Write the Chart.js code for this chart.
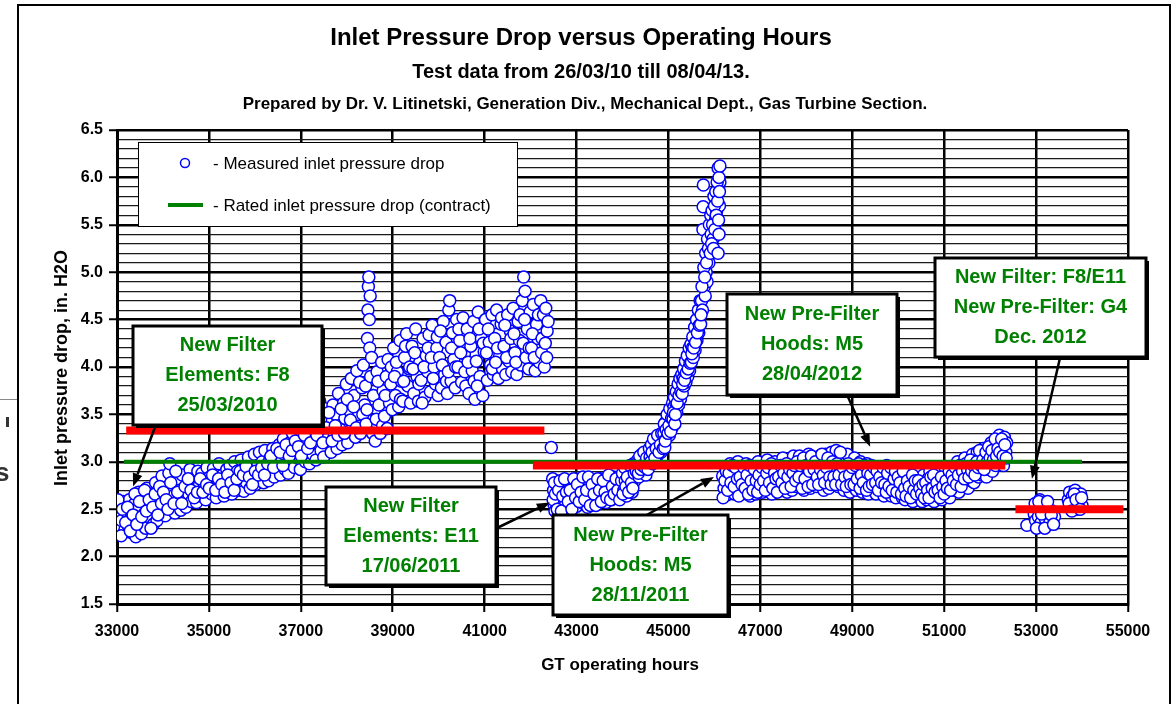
<!DOCTYPE html>
<html>
<head>
<meta charset="utf-8">
<script src="https://cdn.jsdelivr.net/npm/chart.js@4.4.1/dist/chart.umd.min.js"></script>
<style>
html, body { margin: 0; padding: 0; background: #fff; }
#wrap { position: relative; width: 1176px; height: 704px; overflow: hidden; }
canvas { display: block; }
</style>
</head>
<body>
<div id="wrap"><canvas id="pressure_chart" width="1176" height="704"></canvas></div>
<script>
// jshint esversion: 6

// measured inlet pressure drop [GT operating hours, in. H2O]
// new filter elements F8 (25/03/2010)
const period1 = [
    [33010,2.45],[33040,2.31],[33070,2.52],[33100,2.38],[33140,2.58],[33170,2.28],
    [33210,2.47],[33240,2.33],[33270,2.6],[33300,2.4],[33330,2.25],[33370,2.55],
    [33410,2.21],[33440,2.5],[33470,2.68],[33500,2.36],[33530,2.24],[33560,2.62],[33590,2.45],
    [33620,2.3],[33650,2.72],[33680,2.55],[33720,2.41],[33760,2.66],[33790,2.34],
    [33810,2.5],[33840,2.78],[33870,2.38],[33910,2.62],[33950,2.46],[33980,2.85],
    [34020,2.55],[34050,2.43],[34090,2.72],[34130,2.88],[34150,2.98],[34180,2.5],
    [34220,2.64],[34260,2.46],[34300,2.8],[34340,2.58],[34370,2.7],[34390,2.49],
    [34420,2.86],[34460,2.6],[34500,2.52],[34530,2.76],[34560,2.66],[34590,2.92],
    [34620,2.58],[34660,2.82],[34700,2.7],[34730,2.57],[34760,2.9],[34790,2.75],
    [34820,2.64],[34850,2.88],[34890,2.78],[34930,2.6],[34960,2.94],[34990,2.7],
    [35020,2.84],[35060,2.66],[35100,2.93],[35130,2.74],[35160,2.62],[35190,2.8],
    [35220,2.98],[35260,2.7],[35300,2.86],[35330,2.64],[35360,2.78],[35390,2.92],
    [35420,2.72],[35460,2.96],[35500,2.66],[35530,2.84],[35560,3.0],[35590,2.76],
    [35620,2.9],[35660,2.7],[35700,3.02],[35730,2.8],[35760,2.69],[35790,2.95],
    [35820,2.78],[35860,3.05],[35900,2.72],[35930,2.9],[35960,2.84],[35990,3.08],
    [36020,2.76],[36060,2.96],[36100,3.1],[36130,2.82],[36160,3.0],[36190,2.78],
    [36220,3.12],[36260,2.88],[36300,2.8],[36330,3.04],[36360,2.92],[36390,3.14],
    [36420,2.84],[36460,3.08],[36500,2.96],[36530,3.18],[36560,2.86],[36590,3.02],
    [36620,3.24],[36660,2.92],[36700,3.1],[36730,2.88],[36760,3.2],[36790,3.0],
    [36820,3.3],[36860,2.94],[36900,3.14],[36930,3.04],[36960,3.34],[36990,2.92],
    [37020,3.22],[37060,3.4],[37100,3.0],[37130,3.12],[37160,3.3],[37190,2.98],
    [37220,3.44],[37260,3.08],[37300,3.26],[37330,3.02],[37360,3.5],[37390,3.18],
    [37410,3.64],[37440,3.12],[37470,3.32],[37500,3.05],[37540,3.56],[37570,3.24],
    [37620,3.4],[37660,3.1],[37700,3.6],[37730,3.28],[37760,3.5],[37790,3.14],
    [37820,3.72],[37860,3.34],[37900,3.18],[37930,3.62],[37960,3.46],[37990,3.82],
    [38020,3.2],[38060,3.54],[38100,3.88],[38130,3.38],[38160,3.7],[38190,3.26],
    [38220,3.96],[38260,3.5],[38300,3.3],[38330,3.78],[38360,4.02],[38390,3.6],
    [33020,2.6],[33090,2.22],[33120,2.5],[33190,2.36],[33230,2.52],[33290,2.27],[33350,2.44],
    [33390,2.66],[33430,2.34],[33490,2.58],[33540,2.42],[33600,2.7],[33640,2.48],[33700,2.6],
    [33740,2.3],[33780,2.52],[33830,2.66],[33890,2.44],[33930,2.74],[33970,2.56],[34010,2.68],
    [34070,2.6],[34110,2.5],[34170,2.78],[34240,2.56],[34280,2.9],[34320,2.68],[34410,2.56],
    [34480,2.74],[34550,2.82],[34610,2.7],[34680,2.62],[34750,2.68],[34810,2.82],[34870,2.68],
    [34950,2.76],[35010,2.72],[35080,2.86],[35150,2.7],[35210,2.82],[35280,2.76],[35350,2.68],
    [35410,2.86],[35480,2.78],[35550,2.7],[35610,2.82],[35680,2.9],[35750,2.86],[35810,2.95],
    [35880,2.84],[35950,2.76],[36010,2.9],[36080,2.86],[36150,2.94],[36210,2.86],[36280,2.98],
    [36350,3.06],[36410,2.94],[36480,3.14],[36550,3.1],[36610,2.96],[36680,3.18],[36750,3.06],
    [36810,3.12],[36880,3.22],[36950,3.16],[37010,3.06],[37080,3.28],[37150,3.14],[37210,3.2],
    [37280,3.36],[37350,3.28],[37430,3.44],[37480,3.2],[37550,3.36],[37610,3.52],[37680,3.22],
    [37750,3.38],[37810,3.28],[37880,3.56],[37950,3.3],[38010,3.66],[38080,3.44],[38150,3.58],
    [38210,3.36],[38280,3.84],[38350,3.5],[38410,3.8],[38440,3.55],
    [38420,3.4],[38450,4.3],[38460,4.6],[38470,4.85],[38480,4.95],[38490,4.5],
    [38500,4.2],[38510,4.75],[38520,3.9],[38540,4.1],[38560,3.3],[38580,3.7],
    [38620,3.22],[38660,3.95],[38700,3.6],[38730,3.3],[38760,4.05],[38790,3.75],
    [38640,3.45],[38680,3.85],[38780,3.38],
    [38820,3.48],[38860,3.9],[38900,4.08],[38930,3.62],[38960,3.82],[38990,3.55],
    [38840,3.7],[38880,3.35],[38970,4.0],
    [39020,4.2],[39060,3.7],[39100,3.95],[39130,3.58],[39160,4.28],[39190,3.85],
    [39040,3.9],[39080,4.05],[39170,3.66],
    [39220,3.64],[39260,4.1],[39300,4.35],[39330,3.8],[39360,3.98],[39390,3.62],
    [39240,3.85],[39280,4.22],[39370,4.0],
    [39420,4.22],[39460,3.72],[39500,4.4],[39530,3.9],[39560,3.64],[39590,4.05],
    [39440,3.98],[39480,4.15],[39570,3.82],
    [39620,3.86],[39660,4.3],[39700,3.68],[39730,4.12],[39760,3.95],[39790,4.34],
    [39640,3.62],[39680,4.0],[39770,4.2],
    [39820,3.74],[39860,4.44],[39900,4.0],[39930,3.82],[39960,4.2],[39990,3.7],
    [39840,4.1],[39880,3.88],[39970,4.32],
    [40020,4.1],[40060,3.78],[40100,4.48],[40130,3.92],[40160,4.26],[40190,3.72],
    [40040,4.38],[40080,4.02],[40170,3.85],
    [40220,4.6],[40240,4.7],[40270,3.85],[40300,4.36],[40330,4.08],[40360,3.78],[40390,4.5],
    [40210,3.95],[40280,4.2],[40370,4.0],
    [40420,4.0],[40460,4.28],[40500,3.84],[40530,4.52],[40560,4.14],[40590,3.8],
    [40440,4.4],[40480,4.15],[40570,3.95],
    [40620,4.4],[40660,3.72],[40700,4.22],[40730,3.96],[40760,4.48],[40790,3.66],
    [40640,4.05],[40680,4.3],[40770,3.85],
    [40820,4.06],[40860,4.58],[40900,3.9],[40930,4.3],[40960,3.7],[40990,4.16],
    [40840,3.8],[40880,4.4],[40970,4.25],
    [41020,4.5],[41060,3.86],[41100,4.26],[41130,4.02],[41160,4.55],[41190,3.92],
    [41040,4.15],[41080,4.4],[41170,3.98],
    [41220,4.3],[41260,4.6],[41300,3.88],[41330,4.12],[41360,4.45],[41390,3.98],
    [41240,4.05],[41280,4.2],[41370,4.52],
    [41420,4.22],[41460,3.92],[41500,4.55],[41530,4.06],[41560,4.38],[41590,3.95],
    [41440,4.44],[41480,4.1],[41570,4.3],
    [41620,4.62],[41660,4.15],[41700,3.92],[41730,4.48],[41760,4.28],[41790,4.02],
    [41640,4.35],[41680,4.05],[41770,4.55],
    [41820,4.7],[41850,4.95],[41880,4.8],[41900,4.1],[41930,4.4],[41960,3.98],[41990,4.58],
    [41840,4.25],[41870,4.5],[41970,4.2],
    [42020,4.2],[42060,4.66],[42100,3.96],[42130,4.45],[42160,4.3],[42190,4.05],
    [42040,4.35],[42080,4.1],[42170,4.55],
    [42220,4.7],[42250,4.3],[42280,4.55],[42300,4.0],[42330,4.62],[42360,4.38],[42380,4.48],
    [42240,4.15],[42320,4.25],[42350,4.1],
    [42450,3.15]
];

// new filter elements E11 (17/06/2011)
const period2 = [
    [42480,2.82],[42500,2.7],[42510,2.55],[42530,2.48],[42560,2.62],[42590,2.75],[42620,2.52],[42650,2.66],[42680,2.58],
    [42720,2.74],[42760,2.55],[42800,2.64],[42840,2.5],[42880,2.78],[42920,2.6],[42960,2.7],[43000,2.53],[43040,2.66],[43080,2.8],
    [43120,2.57],[43160,2.72],[43200,2.62],[43240,2.52],[43280,2.75],[43320,2.65],[43360,2.56],[43400,2.78],[43440,2.68],[43480,2.58],
    [43520,2.82],[43560,2.64],[43600,2.74],[43640,2.57],[43680,2.8],[43720,2.68],[43760,2.6],[43800,2.84],[43840,2.72],[43880,2.62],
    [43920,2.78],[43960,2.66],
    [42490,2.6],[42520,2.78],[42540,2.66],[42580,2.5],[42610,2.7],[42640,2.8],[42670,2.48],[42700,2.64],[42740,2.82],[42780,2.68],
    [42820,2.58],[42860,2.7],[42900,2.5],[42940,2.82],[42980,2.62],[43020,2.76],[43060,2.58],[43100,2.68],[43140,2.84],[43180,2.6],
    [43220,2.7],[43260,2.84],[43300,2.54],[43340,2.76],[43380,2.66],[43420,2.54],[43460,2.82],[43500,2.7],[43540,2.58],[43580,2.8],
    [43620,2.68],[43660,2.62],[43700,2.86],[43740,2.6],[43780,2.74],[43820,2.66],[43860,2.82],[43900,2.7],[43940,2.6],[43980,2.8],
    [44000,2.88],[44030,2.7],[44060,2.8],[44090,2.64],[44120,2.92],[44150,2.76],[44180,2.86],[44210,2.68],[44240,2.98],[44270,2.8],
    [44010,2.66],[44045,2.94],[44075,2.74],[44105,2.84],[44135,2.68],[44165,2.96],[44195,2.78],[44225,2.72],[44255,2.88],[44285,2.94],
    [44300,2.9],[44330,3.02],[44360,2.84],[44390,2.96],[44420,3.08],[44450,2.9],[44480,3.0],[44510,2.86],[44540,3.1],[44570,2.98],
    [44315,2.98],[44345,2.88],[44375,3.06],[44405,2.92],[44435,2.96],[44465,3.1],[44495,2.94],[44525,3.04],[44555,2.92],[44585,3.14],
    [44600,3.05],[44630,3.18],[44660,2.98],[44690,3.12],[44720,3.22],[44750,3.06],[44780,3.16],[44810,3.26],[44840,3.1],[44870,3.2],
    [44615,3.0],[44645,3.1],[44675,3.24],[44705,3.04],[44735,3.14],[44765,3.28],[44795,3.1],[44825,3.18],[44855,3.3],[44885,3.14],
    [44900,3.3],[44920,3.15],[44940,3.42],[44960,3.25],[44980,3.35],[45000,3.48],[45020,3.28],[45040,3.4],[45060,3.55],[45080,3.36],
    [44910,3.4],[44930,3.22],[44950,3.34],[44970,3.5],[44990,3.3],[45010,3.38],[45030,3.56],[45050,3.32],[45070,3.46],[45090,3.62],
    [45100,3.45],[45120,3.58],[45140,3.4],[45160,3.62],[45180,3.52],[45200,3.7],[45220,3.6],[45240,3.76],[45260,3.66],[45280,3.82],
    [45110,3.52],[45130,3.68],[45150,3.5],[45170,3.74],[45190,3.62],[45210,3.82],[45230,3.7],[45250,3.88],[45270,3.74],[45290,3.92],
    [45300,3.72],[45320,3.88],[45340,3.8],[45360,3.95],[45380,3.84],[45400,4.02],[45420,3.9],[45440,4.08],[45460,3.96],[45480,4.12],
    [45310,3.82],[45330,3.98],[45350,3.86],[45370,4.06],[45390,3.94],[45410,4.12],[45430,3.98],[45450,4.2],[45470,4.04],[45490,4.24],
    [45500,4.05],[45520,4.2],[45540,4.1],[45560,4.3],[45580,4.18],[45600,4.4],[45620,4.28],[45640,4.48],[45660,4.36],[45680,4.55],
    [45510,4.14],[45530,4.32],[45550,4.2],[45570,4.42],[45590,4.26],[45610,4.5],[45630,4.36],[45650,4.6],[45670,4.44],[45690,4.7],
    [45700,4.45],[45720,4.7],[45740,4.6],[45750,5.45],[45755,5.69],[45760,5.92],[45780,4.85],[45800,4.75],[45820,5.0],[45840,4.9],
    [45860,5.2],[45880,5.1],[45900,5.35],
    [45710,4.55],[45730,4.85],[45770,5.05],[45790,4.95],[45810,5.2],[45830,5.1],[45850,5.35],[45870,5.25],[45890,5.5],[45910,5.2],
    [45920,5.6],[45930,5.4],[45950,5.65],[45970,5.35],[45990,5.8],[46020,5.55],[46050,5.65],[46090,5.9],[46110,5.7],[46120,5.95],
    [45940,5.3],[45960,5.5],[45980,5.25],[46000,5.7],[46010,5.45],[46030,5.85],[46040,5.6],[46060,5.95],[46070,5.75],[46080,6.1],
    [46090,5.55],[46100,6.0],[46110,5.85],[46120,6.12],[46100,5.4],[46080,5.2]
];

// new pre-filter hoods M5 (28/11/2011 and 28/04/2012)
const period3 = [
    [46180,2.85],[46210,2.72],[46240,2.95],[46270,2.65],[46300,2.8],[46340,2.98],[46370,2.7],
    [46410,2.88],[46440,2.66],[46480,2.78],[46510,3.0],[46540,2.7],[46570,2.92],
    [46620,2.68],[46650,2.84],[46690,2.98],[46720,2.74],[46750,2.9],[46780,2.64],
    [46820,2.96],[46850,2.76],[46890,2.66],[46920,2.88],[46950,3.0],[46980,2.72],
    [47020,2.84],[47050,2.68],[47090,2.96],[47120,2.78],[47150,3.02],[47180,2.7],
    [47220,2.9],[47250,2.66],[47290,2.8],[47320,3.0],[47350,2.74],[47380,2.94],
    [47420,2.7],[47450,2.86],[47490,3.04],[47520,2.76],[47550,2.92],[47580,2.68],
    [47620,2.98],[47650,2.8],[47690,2.7],[47720,3.06],[47750,2.86],[47780,2.74],
    [47820,2.92],[47850,3.06],[47890,2.76],[47920,2.88],[47950,2.7],[47980,3.0],
    [48020,2.8],[48050,3.08],[48090,2.72],[48120,2.94],[48150,2.84],[48180,3.02],
    [48220,2.74],[48250,2.9],[48290,3.06],[48320,2.78],[48350,2.98],[48380,2.7],
    [48420,3.08],[48450,2.84],[48490,2.72],[48520,2.96],[48550,3.1],[48580,2.78],
    [48620,2.9],[48650,3.12],[48690,2.74],[48720,3.0],[48750,2.82],[48780,3.06],
    [48820,2.7],[48850,2.94],[48890,3.08],[48920,2.8],[48950,2.68],[48980,2.98],
    [49020,2.86],[49050,3.04],[49090,2.7],[49120,2.92],[49150,2.78],[49180,3.0],
    [49220,2.68],[49250,2.9],[49290,2.76],[49320,2.98],[49350,2.66],[49380,2.84],
    [49420,2.96],[49450,2.7],[49490,2.88],[49520,2.66],[49550,2.8],[49580,2.94],
    [49620,2.72],[49650,2.9],[49690,2.64],[49720,2.82],[49750,2.96],[49780,2.7],
    [49820,2.86],[49850,2.64],[49890,2.92],[49920,2.76],[49950,2.62],[49980,2.88],
    [50020,2.7],[50050,2.9],[50090,2.62],[50120,2.8],[50150,2.6],[50180,2.86],
    [50220,2.66],[50250,2.9],[50290,2.74],[50320,2.58],[50350,2.84],[50380,2.68],
    [50420,2.88],[50450,2.62],[50490,2.78],[50520,2.58],[50550,2.86],[50580,2.7],
    [50620,2.6],[50650,2.82],[50690,2.9],[50720,2.66],[50750,2.76],[50780,2.58],
    [50820,2.86],[50850,2.64],[50890,2.92],[50920,2.72],[50950,2.6],[50980,2.8],
    [51020,2.94],[51050,2.66],[51090,2.84],[51120,2.62],[51150,2.76],[51180,2.95],
    [51220,2.7],[51250,2.88],[51290,3.0],[51320,2.68],[51350,2.82],[51380,2.94],
    [51420,2.76],[51450,3.04],[51490,2.86],[51520,2.72],[51550,2.96],[51580,2.8],
    [51620,3.08],[51650,2.78],[51690,2.92],[51720,3.1],[51750,2.84],[51780,3.0],
    [51820,2.86],[51850,3.14],[51890,2.96],[51920,2.84],[51950,3.08],[51980,2.92],
    [52020,3.2],[52050,2.9],[52090,3.1],[52120,2.96],[52150,3.22],[52180,3.0],
    [52200,3.28],[52230,3.0],[52260,3.16],[52290,2.96],[52310,3.26],[52340,3.1],[52360,3.2],
    [46190,2.62],[46230,2.8],[46260,2.9],[46290,2.7],[46320,2.88],[46360,2.78],[46390,2.96],[46430,2.74],
    [46460,2.94],[46500,2.82],[46530,2.64],[46560,2.84],[46600,2.76],[46640,2.94],[46670,2.72],[46710,2.86],
    [46740,2.66],[46770,2.96],[46800,2.8],[46840,2.7],[46870,2.92],[46910,2.8],[46940,2.68],[46970,2.86],
    [47000,2.76],[47040,2.94],[47070,2.8],[47110,2.7],[47140,2.88],[47170,2.94],[47200,2.78],[47240,2.98],
    [47270,2.72],[47310,2.88],[47340,2.82],[47370,2.68],[47400,2.84],[47440,2.96],[47470,2.78],[47510,2.88],
    [47540,2.72],[47570,2.98],[47600,2.84],[47640,2.92],[47670,2.74],[47710,2.88],[47740,2.96],[47770,2.8],
    [47800,3.0],[47840,2.84],[47870,2.96],[47910,2.72],[47940,3.04],[47970,2.82],[48000,2.96],[48040,2.74],
    [48070,2.9],[48110,3.06],[48140,2.76],[48170,2.92],[48200,3.0],[48240,2.84],[48270,2.76],[48310,2.92],
    [48340,3.08],[48370,2.86],[48400,2.78],[48440,2.94],[48470,3.04],[48510,2.84],[48540,2.76],[48570,3.0],
    [48600,2.84],[48640,2.76],[48670,2.98],[48710,2.86],[48740,3.1],[48770,2.76],[48800,2.94],[48840,2.84],
    [48870,2.74],[48910,2.98],[48940,2.86],[48970,2.76],[49000,2.94],[49040,2.76],[49070,2.96],[49110,2.82],
    [49140,2.98],[49170,2.72],[49200,2.86],[49240,2.78],[49270,2.96],[49310,2.7],[49340,2.88],[49370,2.74],
    [49400,2.86],[49440,2.76],[49470,2.94],[49510,2.78],[49540,2.9],[49570,2.7],[49600,2.84],[49640,2.78],
    [49670,2.94],[49710,2.76],[49740,2.68],[49770,2.88],[49800,2.74],[49840,2.94],[49870,2.7],[49910,2.82],
    [49940,2.9],[49970,2.68],[50000,2.84],[50040,2.78],[50070,2.66],[50110,2.9],[50140,2.72],[50170,2.64],
    [50200,2.8],[50240,2.74],[50270,2.62],[50310,2.86],[50340,2.7],[50370,2.8],[50400,2.66],[50440,2.8],
    [50470,2.72],[50510,2.66],[50540,2.76],[50570,2.62],[50600,2.78],[50640,2.7],[50670,2.62],[50710,2.84],
    [50740,2.72],[50770,2.86],[50800,2.68],[50840,2.78],[50870,2.7],[50910,2.62],[50940,2.84],[50970,2.74],
    [51000,2.66],[51040,2.8],[51070,2.72],[51110,2.9],[51140,2.7],[51170,2.86],[51200,2.8],[51240,2.94],
    [51270,2.76],[51310,2.86],[51340,2.96],[51370,2.74],[51400,2.9],[51440,2.82],[51470,2.98],[51510,2.92],
    [51540,2.84],[51570,3.02],[51600,2.9],[51640,2.96],[51670,2.86],[51710,3.0],[51740,2.94],[51770,3.12],
    [51800,2.96],[51840,3.02],[51870,2.92],[51910,3.1],[51940,3.0],[51970,3.16],[52000,3.04],[52040,3.12],
    [52070,3.02],[52110,3.24],[52140,3.06],[52170,3.14],[52210,3.1],[52250,3.24],[52280,3.06],[52320,3.18],
    [52350,3.04]
];

// new filter F8/E11 and pre-filter G4 (Dec. 2012)
const period4 = [
    [52800,2.33],[52960,2.45],[52990,2.38],[53020,2.52],[53050,2.42],[53080,2.6],[53110,2.36],
    [53140,2.48],[53170,2.55],[53200,2.4],[53230,2.5],[53260,2.44],[53300,2.36],[53350,2.48],
    [53400,2.42],[53700,2.6],[53730,2.68],[53760,2.52],[53790,2.64],[53820,2.56],[53850,2.7],
    [53880,2.5],[53910,2.62],[53940,2.58],[53970,2.66],[54000,2.54],
    [52980,2.56],[53010,2.3],[53060,2.58],[53120,2.45],[53190,2.3],[53250,2.58],[53330,2.44],
    [53380,2.34],[53720,2.56],[53780,2.48],[53830,2.66],[53870,2.6],[53960,2.5],[53990,2.62]
];

// average level of each period (red bars)
const meanStart = [33200, 42050, 52550];
const meanEnd = [42300, 52330, 54900];
const meanDrop = [3.33, 2.96, 2.50];

// rated (contract) inlet pressure drop
const ratedDrop = 3.0;
const ratedStart = 33150;
const ratedEnd = 54000;

// callout texts and the points their arrows aim at
const noteLines = [
    ['New Filter', 'Elements: F8', '25/03/2010'],
    ['New Filter', 'Elements: E11', '17/06/2011'],
    ['New Pre-Filter', 'Hoods: M5', '28/11/2011'],
    ['New Pre-Filter', 'Hoods: M5', '28/04/2012'],
    ['New Filter: F8/E11', 'New Pre-Filter: G4', 'Dec. 2012']
];
const noteTipHours = [33350, 42420, 45990, 49390, 52910];
const noteTipDrop = [2.74, 2.57, 2.84, 3.16, 2.82];

const xTicks = [33000, 35000, 37000, 39000, 41000, 43000, 45000, 47000, 49000, 51000, 53000, 55000];

const FONT = '"Liberation Sans", Arial, Helvetica, sans-serif';

function toPoints(rows)
{
    return rows.map(r => ({x: r[0], y: r[1]}));
}

function is_major(v)
{
    return Math.abs(v * 2 - Math.round(v * 2)) < 1e-6;
}

function arrow(c, x1, y1, x2, y2)
{
    const ang = Math.atan2(y2 - y1, x2 - x1);
    const len = 13, half = 5;
    const bx = x2 - Math.cos(ang) * len, by = y2 - Math.sin(ang) * len;
    c.beginPath();
    c.moveTo(x1, y1);
    c.lineTo(bx, by);
    c.stroke();
    c.beginPath();
    c.moveTo(x2, y2);
    c.lineTo(bx - Math.sin(ang) * half, by + Math.cos(ang) * half);
    c.lineTo(bx + Math.sin(ang) * half, by - Math.cos(ang) * half);
    c.closePath();
    c.fill();
}

// boxes: left, top, width, height, arrow start x, arrow start y
const noteBoxes = [
    [133, 326, 189, 99, 155, 427],
    [326, 487, 170, 98, 497, 528],
    [553, 515, 175, 100, 645, 516],
    [727, 294, 170, 101, 848, 397],
    [935, 258, 211, 99, 1060, 358]
];

const decorations = {
    id: 'decorations',
    afterDraw(chart) {
        const c = chart.ctx;
        const xs = chart.scales.x, ys = chart.scales.y;
        c.save();

        // stray edge of a neighbouring frame at the far left
        c.strokeStyle = '#888'; c.lineWidth = 1;
        c.beginPath(); c.moveTo(0, 399.5); c.lineTo(17, 399.5); c.stroke();
        c.fillStyle = '#333';
        c.font = 'bold 26px ' + FONT;
        c.textAlign = 'left'; c.textBaseline = 'alphabetic';
        c.save(); c.beginPath(); c.rect(0, 400, 17, 100); c.clip();
        c.fillText('s', -5, 481);
        c.fillRect(6, 417, 3, 10);
        c.restore();

        // outer frame
        c.strokeStyle = '#000'; c.lineWidth = 2;
        c.beginPath();
        c.moveTo(18, 720); c.lineTo(18, 5); c.lineTo(1170, 5); c.lineTo(1170, 720);
        c.stroke();

        // titles
        c.fillStyle = '#000';
        c.textAlign = 'center'; c.textBaseline = 'middle';
        c.font = 'bold 24px ' + FONT;
        c.fillText('Inlet Pressure Drop versus Operating Hours', 581, 38);
        c.font = 'bold 20px ' + FONT;
        c.fillText('Test data from 26/03/10 till 08/04/13.', 581, 72);
        c.font = 'bold 17px ' + FONT;
        c.fillText('Prepared by Dr. V. Litinetski, Generation Div., Mechanical Dept., Gas Turbine Section.', 585, 104);

        // axis titles
        c.font = 'bold 17px ' + FONT;
        c.fillText('GT operating hours', 620, 665);
        c.font = 'bold 18px ' + FONT;
        c.save();
        c.translate(62, 368);
        c.rotate(-Math.PI / 2);
        c.fillText('Inlet pressure drop, in. H2O', 0, 0);
        c.restore();

        // legend
        c.fillStyle = '#fff';
        c.fillRect(138, 142, 379, 84);
        c.strokeStyle = '#000'; c.lineWidth = 1;
        c.strokeRect(138.5, 142.5, 379, 84);
        c.beginPath();
        c.arc(185, 163, 4.5, 0, Math.PI * 2);
        c.strokeStyle = '#0000ff'; c.lineWidth = 1.5; c.stroke();
        c.strokeStyle = '#008000'; c.lineWidth = 4;
        c.beginPath(); c.moveTo(168, 205); c.lineTo(203, 205); c.stroke();
        c.fillStyle = '#000';
        c.textAlign = 'left';
        c.font = '17px ' + FONT;
        c.fillText('- Measured inlet pressure drop', 213, 164);
        c.fillText('- Rated inlet pressure drop (contract)', 213, 206);

        // callouts
        noteBoxes.forEach((b, i) => {
            const [bx, by, bw, bh, ax, ay] = b;
            c.strokeStyle = '#000'; c.fillStyle = '#000'; c.lineWidth = 2.5;
            arrow(c, ax, ay, xs.getPixelForValue(noteTipHours[i]), ys.getPixelForValue(noteTipDrop[i]));
            c.fillStyle = '#000';
            c.fillRect(bx + 3, by + 3, bw, bh);
            c.fillStyle = '#fff';
            c.fillRect(bx, by, bw, bh);
            c.lineWidth = 3;
            c.strokeRect(bx, by, bw, bh);
            c.fillStyle = '#008000';
            c.textAlign = 'center'; c.textBaseline = 'middle';
            c.font = 'bold 20px ' + FONT;
            noteLines[i].forEach((t, k) => {
                c.fillText(t, bx + bw / 2, by + bh / 2 + (k - 1) * 30);
            });
        });
        c.restore();
    }
};

const measured = toPoints(period1.concat(period2, period3, period4));

const datasets = meanDrop.map((v, i) => ({
    type: 'line',
    label: 'Average ' + (i + 1),
    data: [{x: meanStart[i], y: v}, {x: meanEnd[i], y: v}],
    borderColor: '#ff0000',
    borderWidth: 8,
    borderCapStyle: 'butt',
    pointRadius: 0,
    fill: false,
    order: 0
}));
datasets.push({
    type: 'line',
    label: 'Rated inlet pressure drop (contract)',
    data: [{x: ratedStart, y: ratedDrop}, {x: ratedEnd, y: ratedDrop}],
    borderColor: '#008000',
    borderWidth: 4,
    borderCapStyle: 'butt',
    pointRadius: 0,
    fill: false,
    order: 1
});
datasets.push({
    label: 'Measured inlet pressure drop',
    data: measured,
    pointRadius: 6,
    borderWidth: 1.5,
    borderColor: '#0000ff',
    backgroundColor: '#ffffff',
    order: 2
});

const ctx = document.getElementById('pressure_chart').getContext('2d');
let myChart = new Chart(ctx, {
    type: 'scatter',
    data: { datasets: datasets },
    options: {
        responsive: false,
        animation: false,
        layout: { padding: { left: 0, top: 130, right: 48, bottom: 0 } },
        scales: {
            x: {
                type: 'linear',
                min: 33000,
                max: 55000,
                afterFit: scale => { scale.height = 100; },
                afterBuildTicks: scale => { scale.ticks = xTicks.map(v => ({value: v})); },
                ticks: {
                    autoSkip: false,
                    maxRotation: 0,
                    padding: 10,
                    color: '#000',
                    font: { family: FONT, size: 16, weight: 'bold' },
                    callback: v => String(v)
                },
                grid: { color: '#000', lineWidth: 2.5, tickLength: 8, tickColor: '#000', tickWidth: 2 },
                border: { color: '#000', width: 3 }
            },
            y: {
                type: 'linear',
                min: 1.5,
                max: 6.5,
                afterFit: scale => { scale.width = 117; },
                ticks: {
                    stepSize: 0.1,
                    autoSkip: false,
                    padding: 6,
                    color: '#000',
                    font: { family: FONT, size: 16, weight: 'bold' },
                    callback: v => is_major(v) ? v.toFixed(1) : ''
                },
                grid: {
                    color: c => is_major(c.tick.value) ? '#000' : '#1a1a1a',
                    lineWidth: c => is_major(c.tick.value) ? 2.5 : 1.2,
                    tickLength: 8,
                    tickColor: c => is_major(c.tick.value) ? '#000' : 'rgba(0,0,0,0)',
                    tickWidth: 2
                },
                border: { color: '#000', width: 3 }
            }
        },
        plugins: {
            legend: { display: false },
            tooltip: { enabled: false }
        }
    },
    plugins: [decorations]
});
</script>
</body>
</html>
